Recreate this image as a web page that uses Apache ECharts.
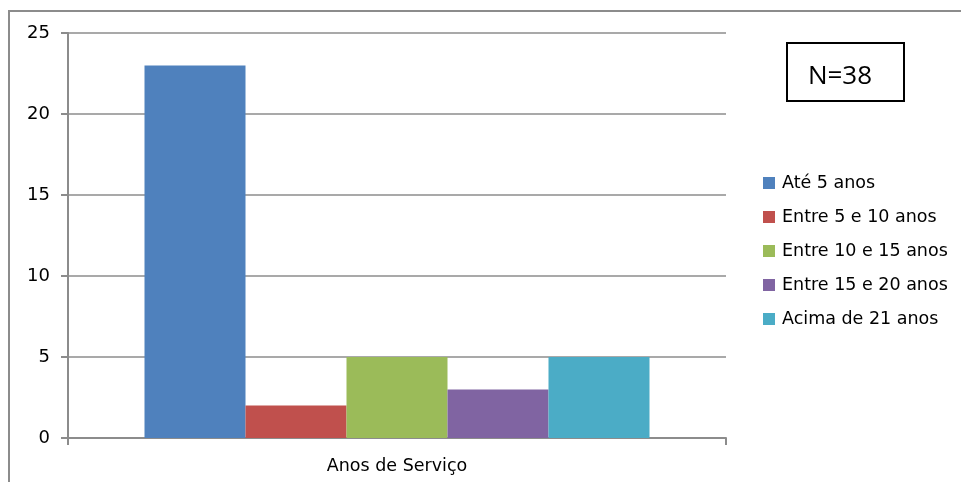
<!DOCTYPE html>
<html><head><meta charset="utf-8">
<script src="https://cdn.jsdelivr.net/npm/echarts@6/dist/echarts.min.js"></script>
<style>html,body{margin:0;padding:0;background:#fff}#c{width:961px;height:482px}</style>
</head><body><div id="c"></div>
<script>
var categories = ['Anos de Serviço'];
var seriesNames = ['Até 5 anos', 'Entre 5 e 10 anos', 'Entre 10 e 15 anos', 'Entre 15 e 20 anos', 'Acima de 21 anos'];
var seriesValues = [23, 2, 5, 3, 5];
var seriesColors = ['#4f81bd', '#c0504d', '#9bbb59', '#8064a2', '#4bacc6'];
var yTicks = [0, 5, 10, 15, 20, 25];
var annotation = 'N=38';

var chart = echarts.init(document.getElementById('c'));
var font = 'DejaVu Sans';
chart.setOption({
  animation: false,
  grid: {left: 68, top: 33, right: 235, bottom: 44},
  legend: {
    orient: 'vertical', left: 763, top: 174, padding: 0,
    itemWidth: 12, itemHeight: 12, itemGap: 16,
    icon: 'rect',
    textStyle: {fontFamily: font, fontSize: 17.5, color: '#000', lineHeight: 16, padding: [0,0,0,2]},
    data: seriesNames
  },
  xAxis: {
    type: 'category', data: categories,
    axisLine: {lineStyle: {color: '#8c8c8c', width: 2}},
    axisTick: {show: true, length: 7, lineStyle: {color: '#8c8c8c', width: 2}},
    axisLabel: {fontFamily: font, fontSize: 17.5, color: '#000', margin: 19}
  },
  yAxis: {
    type: 'value', min: yTicks[0], max: yTicks[yTicks.length-1], interval: 5,
    axisLine: {show: true, lineStyle: {color: '#8c8c8c', width: 2}},
    axisTick: {show: true, length: 7, lineStyle: {color: '#8c8c8c', width: 2}},
    splitLine: {lineStyle: {color: '#8c8c8c', width: 1.5}},
    axisLabel: {fontFamily: font, fontSize: 18, color: '#000', margin: 18}
  },
  graphic: [
    {type: 'rect', shape: {x: 9, y: 11, width: 1000, height: 1000}, style: {fill: 'none', stroke: '#8c8c8c', lineWidth: 2}, z: 100},
    {type: 'rect', shape: {x: 787, y: 43, width: 117, height: 58}, style: {fill: '#fff', stroke: '#000', lineWidth: 2}, z: 100},
    {type: 'text', x: 840, y: 77, style: {text: annotation, font: '26px "Open Sans"', fill: '#000', textAlign: 'center', textVerticalAlign: 'middle'}, z: 101}
  ],
  series: seriesNames.map(function (n, i) {
    return {
      name: n, type: 'bar', data: [seriesValues[i]],
      barWidth: 101, barGap: '0%',
      itemStyle: {color: seriesColors[i]}
    };
  })
});
</script></body></html>
